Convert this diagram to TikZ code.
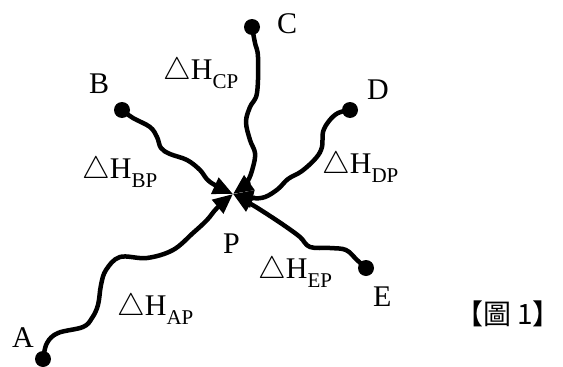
\documentclass[tikz,border=0pt]{standalone}
\usepackage{fontspec}
\setmainfont{Liberation Serif}
\newfontfamily\cjkfont{Noto Sans CJK TC}
\usetikzlibrary{arrows.meta}

\newcommand{\dH}[1]{\scalebox{1.25}{$\triangle$}H\raisebox{-9pt}{\fontsize{21}{21}\selectfont #1}}

\begin{document}
\begin{tikzpicture}[x=1pt, y=-1pt,
    endpt/.style={circle, fill=black, inner sep=0pt, minimum size=16pt},
    link/.style={line width=4.5pt, line join=round, line cap=round,
                 -{Triangle[length=20pt,width=17pt]}},
    letter/.style={anchor=base west, inner sep=0pt,
                   font=\fontsize{30}{30}\selectfont},
]
\useasboundingbox (0,0) rectangle (563,367);

% End points and the meeting point
\coordinate (P) at (233,194);
\node[endpt] (A) at (43,359) {};
\node[endpt] (B) at (122,110) {};
\node[endpt] (C) at (252,27) {};
\node[endpt] (D) at (350,110) {};
\node[endpt] (E) at (366,268) {};

% Paths
\draw[link] plot[smooth, tension=0.6] coordinates {(A.center) (47,343) (58,333)
    (83,327) (92,318) (98,305) (101,285) (106,270) (120,257) (147,258) (173,250)
    (193,233) (207,220) (217,208) (P)};
\draw[link] plot[smooth, tension=0.6] coordinates {(B.center) (133,118) (150,127)
    (157,137) (161,148) (170,154) (187,160) (200,170) (210,182) (P)};
\draw[link] plot[smooth, tension=0.6] coordinates {(C.center) (255,43) (258,57)
    (257,93) (250,107) (246,122) (250,140) (255,153) (253,167) (247,182) (P)};
\draw[link] plot[smooth, tension=0.6] coordinates {(D.center) (338,113) (329,121)
    (323,132) (322,147) (316,158) (302,171) (288,179) (278,189) (265,197)
    (252,198) (P)};
\draw[link] plot[smooth, tension=0.6] coordinates {(E.center) (357,260) (346,250)
    (330,248) (310,247) (300,237) (285,226) (267,214) (256,207) (P)};

% Point names
\node[letter] (la) at (12,347) {A};
\node[letter] (lb) at (89,93) {B};
\node[letter] (lc) at (277,33) {C};
\node[letter] (ld) at (367,99) {D};
\node[letter] (le) at (373,306) {E};
\node[letter] (lp) at (223,253) {P};

% Enthalpy labels
\node[letter] (hap) at (117,315) {\dH{AP}};
\node[letter] (hbp) at (82,178) {\dH{BP}};
\node[letter] (hcp) at (163,79) {\dH{CP}};
\node[letter] (hdp) at (322,173) {\dH{DP}};
\node[letter] (hep) at (258,278) {\dH{EP}};

% Caption
\node[font=\cjkfont\fontsize{28}{28}\selectfont, inner sep=0pt] (cap) at (508,314) {【圖 1】};
\end{tikzpicture}
\end{document}
